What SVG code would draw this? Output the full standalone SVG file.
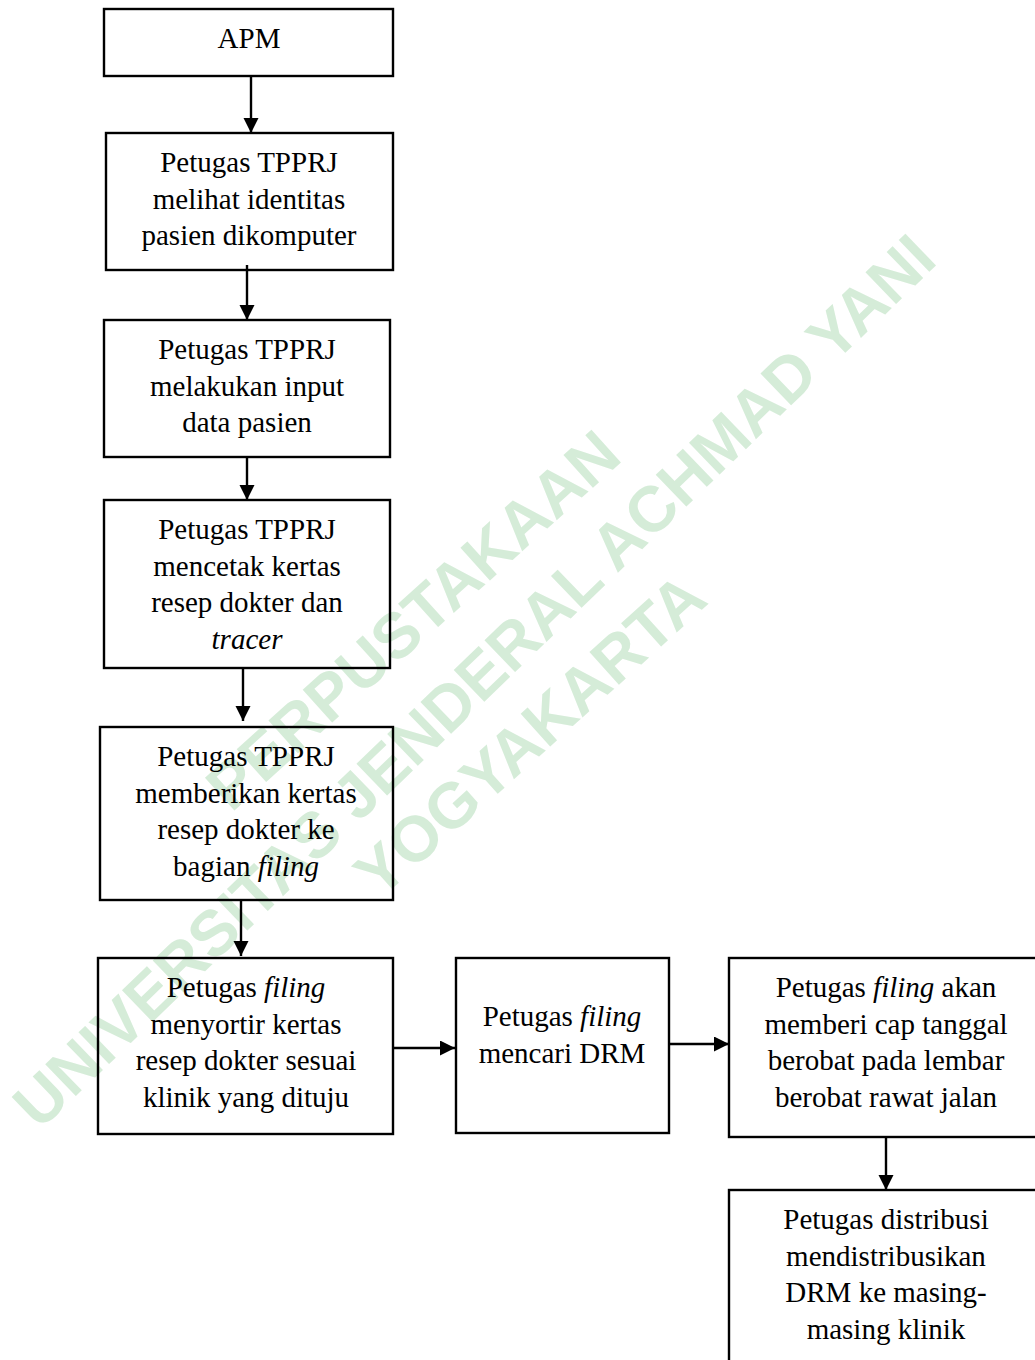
<svg xmlns="http://www.w3.org/2000/svg" width="1035" height="1360" viewBox="0 0 1035 1360">
<style>
.bx{fill:none;stroke:#000;stroke-width:2.4}
.t{font-family:"Liberation Serif","Times New Roman",serif;font-size:29px;fill:#000;text-anchor:middle}
.i{font-style:italic}
.ln{stroke:#000;stroke-width:2.4;fill:none}
.wm{font-family:"Liberation Sans",Arial,sans-serif;font-weight:bold;font-size:64px;fill:#d5ecd8;text-anchor:middle}
</style>
<defs>
<marker id="ah" markerWidth="16" markerHeight="16" refX="15" refY="7.5" orient="auto" markerUnits="userSpaceOnUse">
<path d="M0,0 L15,7.5 L0,15 Z" fill="#000"/>
</marker>
</defs>
<rect width="1035" height="1360" fill="#fff"/>
<g id="watermark">
<text class="wm" transform="translate(474,681) rotate(-44)" y="22">UNIVERSITAS JENDERAL ACHMAD YANI</text>
<text class="wm" transform="translate(413,620) rotate(-42)" y="22">PERPUSTAKAAN</text>
<text class="wm" transform="translate(530,735) rotate(-42)" y="22">YOGYAKARTA</text>
</g>
<g id="connectors">
<line class="ln" x1="251" y1="77" x2="251" y2="133" marker-end="url(#ah)"/>
<line class="ln" x1="247" y1="265" x2="247" y2="320" marker-end="url(#ah)"/>
<line class="ln" x1="247" y1="457" x2="247" y2="500" marker-end="url(#ah)"/>
<line class="ln" x1="243" y1="668" x2="243" y2="721" marker-end="url(#ah)"/>
<line class="ln" x1="241" y1="900" x2="241" y2="956" marker-end="url(#ah)"/>
<line class="ln" x1="393" y1="1048" x2="455" y2="1048" marker-end="url(#ah)"/>
<line class="ln" x1="669" y1="1044" x2="729" y2="1044" marker-end="url(#ah)"/>
<line class="ln" x1="886" y1="1137" x2="886" y2="1190" marker-end="url(#ah)"/>
</g>
<g id="n1">
<rect class="bx" x="104" y="9" width="289" height="67"/>
<text class="t" x="249" y="48">APM</text>
</g>
<g id="n2">
<rect class="bx" x="106" y="133" width="287" height="137"/>
<text class="t" x="249" y="172">Petugas TPPRJ</text>
<text class="t" x="249" y="208.5">melihat identitas</text>
<text class="t" x="249" y="245">pasien dikomputer</text>
</g>
<g id="n3">
<rect class="bx" x="104" y="320" width="286" height="137"/>
<text class="t" x="247" y="359">Petugas TPPRJ</text>
<text class="t" x="247" y="395.5">melakukan input</text>
<text class="t" x="247" y="432">data pasien</text>
</g>
<g id="n4">
<rect class="bx" x="104" y="500" width="286" height="168"/>
<text class="t" x="247" y="539">Petugas TPPRJ</text>
<text class="t" x="247" y="575.5">mencetak kertas</text>
<text class="t" x="247" y="612">resep dokter dan</text>
<text class="t i" x="247" y="648.5">tracer</text>
</g>
<g id="n5">
<rect class="bx" x="100" y="727" width="293" height="173"/>
<text class="t" x="246" y="766">Petugas TPPRJ</text>
<text class="t" x="246" y="802.5">memberikan kertas</text>
<text class="t" x="246" y="839">resep dokter ke</text>
<text class="t" x="246" y="875.5">bagian <tspan class="i">filing</tspan></text>
</g>
<g id="n6">
<rect class="bx" x="98" y="958" width="295" height="176"/>
<text class="t" x="246" y="997">Petugas <tspan class="i">filing</tspan></text>
<text class="t" x="246" y="1033.5">menyortir kertas</text>
<text class="t" x="246" y="1070">resep dokter sesuai</text>
<text class="t" x="246" y="1106.5">klinik yang dituju</text>
</g>
<g id="n7">
<rect class="bx" x="456" y="958" width="213" height="175"/>
<text class="t" x="562" y="1026">Petugas <tspan class="i">filing</tspan></text>
<text class="t" x="562" y="1062.5">mencari DRM</text>
</g>
<g id="n8">
<rect class="bx" x="729" y="958" width="320" height="179"/>
<text class="t" x="886" y="997">Petugas <tspan class="i">filing</tspan> akan</text>
<text class="t" x="886" y="1033.5">memberi cap tanggal</text>
<text class="t" x="886" y="1070">berobat pada lembar</text>
<text class="t" x="886" y="1106.5">berobat rawat jalan</text>
</g>
<g id="n9">
<rect class="bx" x="729" y="1190" width="320" height="190"/>
<text class="t" x="886" y="1229">Petugas distribusi</text>
<text class="t" x="886" y="1265.5">mendistribusikan</text>
<text class="t" x="886" y="1302">DRM ke masing-</text>
<text class="t" x="886" y="1338.5">masing klinik</text>
</g>
</svg>
